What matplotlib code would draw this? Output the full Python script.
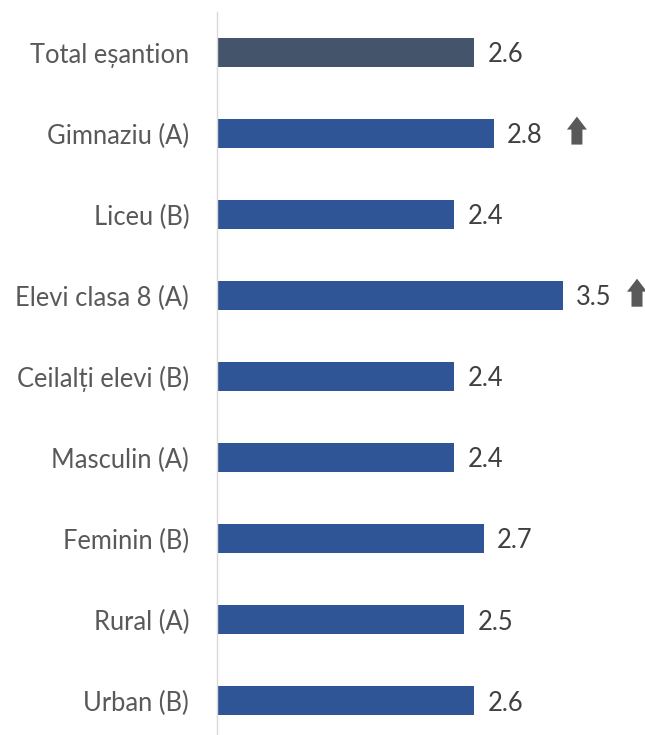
import matplotlib
matplotlib.use("Agg")
import matplotlib.pyplot as plt
import matplotlib.transforms as mtransforms
from matplotlib.patches import Polygon

categories = ["Total eșantion", "Gimnaziu (A)", "Liceu (B)", "Elevi clasa 8 (A)",
              "Ceilalți elevi (B)", "Masculin (A)", "Feminin (B)", "Rural (A)", "Urban (B)"]
values = [2.6, 2.8, 2.4, 3.5, 2.4, 2.4, 2.7, 2.5, 2.6]
arrow_up = [False, True, False, True, False, False, False, False, False]

W, H = 645, 735
fig = plt.figure(figsize=(W / 100, H / 100), dpi=100)
ax_left, ax_top, ax_bottom = 217, 12, 735
ax = fig.add_axes([ax_left / W, (H - ax_bottom) / H, (W - ax_left) / W, (ax_bottom - ax_top) / H])

px_per_unit = 98.9
spacing = 81.0
colors = ["#44546A"] + ["#2F5597"] * (len(values) - 1)
ax.barh(range(len(values)), values, height=29 / spacing, color=colors)

ax.set_xlim(0, (W - ax_left) / px_per_unit)
ax.set_ylim(8 + (ax_bottom - 701) / spacing, -0.5)

for s in ["top", "right", "bottom"]:
    ax.spines[s].set_visible(False)
ax.spines["left"].set_color("#D9D9D9")
ax.spines["left"].set_linewidth(1)
ax.set_xticks([])
ax.set_yticks(range(len(categories)))
ax.set_yticklabels(categories, fontsize=18.4, color="#595959", family="Lato")
ax.tick_params(axis="y", length=0, pad=20)

for i, v in enumerate(values):
    ax.annotate(f"{v:.1f}", xy=(v, i), xytext=(9.5, -1.5), textcoords="offset points",
                va="center", ha="left", fontsize=18.4, color="#404040", family="Lato")
    if arrow_up[i]:
        bar_end_px = ax_left + v * px_per_unit
        cx = min(83, (W - 8) - bar_end_px)
        tr = mtransforms.Affine2D() + mtransforms.ScaledTranslation(v, i, ax.transData)
        pts = [(-5.5, -13), (5.5, -13), (5.5, 2), (10, 2), (0, 15), (-10, 2), (-5.5, 2)]
        poly = Polygon([(x + cx, y + 2) for x, y in pts], closed=True, transform=tr,
                       facecolor="#595959", edgecolor="none", clip_on=False)
        ax.add_patch(poly)

fig.savefig("out.png", dpi=100)
